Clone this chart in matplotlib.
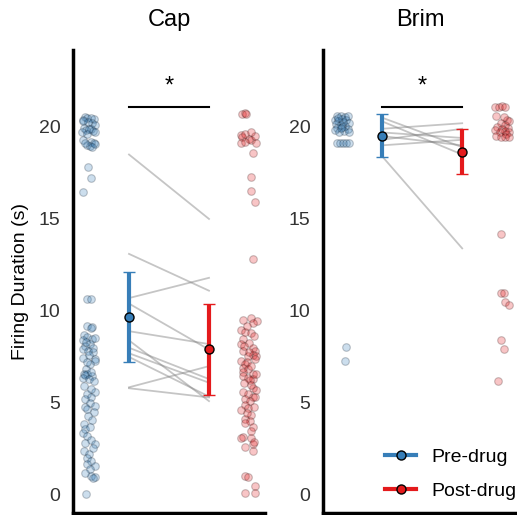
import numpy as np
import matplotlib
matplotlib.use("Agg")
import matplotlib.pyplot as plt
from matplotlib.lines import Line2D

plt.rcParams['font.family'] = ['Liberation Sans', 'DejaVu Sans']

BLUE = '#377eb8'
RED = '#e41a1c'

# ---- Cap: individual trials (value, jitter) ----
cap_pre = [20.55, 20.5, 20.45, 20.4, 20.5, 20.3, 20.2, 20.25, 20.1, 19.95, 19.9, 19.85, 19.8,
           19.75, 19.7, 19.9, 19.6, 19.3, 19.2, 19.1, 19.0, 18.95, 19.15, 19.05, 18.9,
           17.8, 17.25, 16.45, 10.65, 10.65,
           9.2, 9.15, 9.05, 8.7, 8.6, 8.45, 8.4, 8.2, 8.1, 8.0, 7.95, 7.8, 7.75,
           7.45, 7.4, 7.3, 7.1, 6.85, 6.6, 6.55, 6.5, 6.45, 6.35, 6.3,
           5.9, 5.6, 5.5, 5.35, 5.2, 5.0, 4.85, 4.8, 4.5, 4.3,
           3.85, 3.6, 3.35, 3.2, 3.0, 2.85, 2.75, 2.4, 2.2, 2.0, 1.85, 1.7, 1.55, 1.4,
           1.05, 0.95, 0.9, 0.05,
           8.55, 8.3, 7.6, 7.2, 6.7, 6.2, 5.75, 4.65, 4.1, 3.7, 2.55, 1.2]
cap_pre_jit = [-0.05, -0.03, 0.06, -0.07, 0.02, -0.08, 0.04, -0.01, 0.07, -0.06, 0.03, -0.04, 0.05,
               -0.09, 0.08, 0.0, -0.02, -0.07, 0.03, 0.06, -0.03, 0.01, -0.05, 0.07, 0.04,
               -0.01, 0.02, -0.07, -0.03, 0.02,
               -0.02, 0.04, 0.02, -0.06, -0.02, 0.04, -0.08, 0.01, -0.05, 0.05, -0.08, -0.01, 0.05,
               -0.07, 0.07, 0.08, 0.01, -0.04, -0.06, -0.02, -0.05, 0.04, -0.07, 0.0,
               -0.06, 0.08, -0.03, 0.03, -0.05, 0.01, 0.08, -0.05, 0.06, -0.01,
               -0.06, -0.05, -0.08, -0.03, 0.03, -0.05, 0.07, -0.06, 0.0, -0.03, 0.03, -0.02, 0.07, 0.01,
               0.03, 0.07, 0.05, -0.04,
               0.07, -0.04, 0.0, -0.03, 0.02, 0.06, 0.02, -0.03, 0.04, 0.01, 0.05, -0.05]

cap_post = [20.7, 20.75, 20.7,
            19.55, 19.45, 19.6, 19.35, 19.3, 19.5, 19.1, 19.15, 19.2, 19.75,
            18.6, 17.3, 16.5, 15.9, 12.8,
            9.5, 9.6, 9.45, 9.35, 8.95, 8.85, 8.8, 8.5, 8.25, 8.2,
            8.0, 7.85, 7.85, 7.6, 7.55, 7.55, 7.3, 7.25, 7.1, 6.9, 6.85, 6.7, 6.6,
            6.45, 6.35, 6.3, 6.25, 6.6,
            5.8, 5.7, 5.5, 5.35, 5.2, 5.1, 4.9, 4.7, 4.6,
            4.35, 4.15, 4.0, 3.9, 3.7, 3.15, 3.1, 3.1, 2.6, 2.75, 2.4,
            1.05, 1.0, 0.5, 0.1, 0.1,
            9.2, 8.65, 8.1, 7.75, 7.4, 7.0, 6.1, 5.95, 5.6, 5.3, 4.8, 4.45, 3.5, 2.9]
cap_post_jit = [-0.09, -0.05, -0.04,
                -0.1, -0.09, -0.05, 0.0, 0.03, 0.07, 0.09, -0.1, -0.05, 0.03,
                0.05, 0.03, 0.03, 0.07, 0.05,
                -0.08, 0.03, 0.1, 0.05, -0.1, -0.05, 0.03, -0.08, 0.0, -0.1,
                0.05, 0.07, -0.08, 0.05, 0.09, -0.01, -0.1, -0.03, -0.05, -0.08, -0.01, -0.08, 0.05,
                -0.08, -0.01, 0.05, 0.01, 0.09,
                0.05, 0.09, -0.01, 0.05, -0.05, 0.01, -0.05, -0.01, -0.1,
                0.03, -0.05, 0.01, -0.05, 0.05, -0.08, -0.1, 0.03, -0.05, 0.05, 0.05,
                -0.05, -0.01, 0.07, -0.05, 0.07,
                -0.03, 0.06, -0.06, 0.0, 0.08, 0.03, -0.06, 0.02, -0.08, 0.08, 0.06, -0.03, 0.02, 0.06]

# paired cell means
cap_pair_pre = [18.5, 13.1, 10.7, 10.4, 8.9, 8.4, 8.0, 7.7, 7.5, 5.85, 5.8]
cap_pair_post = [15.0, 11.1, 11.8, 7.9, 8.2, 5.1, 6.3, 6.1, 5.35, 7.0, 5.3]

# ---- Brim ----
brim_pre = [20.6, 20.6, 20.55, 20.6, 20.4, 20.45, 20.35, 20.3, 20.2, 20.15, 20.1, 20.05, 20.0,
            19.95, 19.9, 19.85, 19.8, 19.75, 19.7, 20.25, 19.95, 20.5,
            19.15, 19.15, 19.1, 19.15, 19.1, 8.05, 7.3]
brim_pre_jit = [-0.07, -0.02, 0.03, 0.07, -0.09, 0.0, 0.05, -0.05, 0.08, -0.08, -0.02, 0.04, 0.0,
                -0.06, 0.07, -0.09, 0.02, -0.04, 0.08, 0.01, -0.01, -0.05,
                -0.07, -0.03, 0.01, 0.05, 0.08, 0.05, 0.04]

brim_post = [21.1, 21.1, 21.15, 21.1,
             20.6, 20.4, 20.3, 20.2, 20.1, 20.0, 19.95, 19.9, 19.85, 19.8, 19.75, 19.7, 19.6,
             19.5, 19.45, 19.45, 19.45, 20.55,
             14.17, 10.96, 10.96, 10.5, 10.3, 8.44, 7.95, 6.21]
brim_post_jit = [-0.09, -0.04, 0.0, 0.04,
                 -0.08, 0.06, 0.09, -0.02, 0.03, -0.06, 0.07, 0.0, -0.09, 0.04, 0.09, -0.03, 0.05,
                 -0.08, -0.02, 0.03, 0.08, 0.02,
                 -0.02, -0.01, 0.02, 0.04, 0.08, -0.02, 0.02, -0.05]

brim_pair_pre = [20.5, 20.3, 19.9, 19.7, 19.5, 19.3, 19.0, 18.4]
brim_pair_post = [18.9, 18.5, 20.2, 19.4, 19.0, 19.9, 19.3, 13.4]

# group mean and 95% CI
cap_mean = [9.69, 7.93]
cap_lo = [7.25, 5.43]
cap_hi = [12.14, 10.38]
brim_mean = [19.53, 18.66]
brim_lo = [18.39, 17.45]
brim_hi = [20.7, 19.87]

panels = [
    ("Cap", cap_pre, cap_pre_jit, cap_post, cap_post_jit, cap_pair_pre, cap_pair_post,
     cap_mean, cap_lo, cap_hi, (0.3, 2.7)),
    ("Brim", brim_pre, brim_pre_jit, brim_post, brim_post_jit, brim_pair_pre, brim_pair_post,
     brim_mean, brim_lo, brim_hi, (0.26, 2.685)),
]

fig = plt.figure(figsize=(5.17, 5.15), dpi=100)
ax_rects = [[73 / 517, 2 / 515, 192 / 517, 463 / 515],
            [323 / 517, 2 / 515, 194 / 517, 463 / 515]]

for rect, (name, pre, pre_j, post, post_j, ppre, ppost, mean, lo, hi, xl) in zip(ax_rects, panels):
    ax = fig.add_axes(rect)
    ax.scatter(0.5 + np.array(pre_j), pre, s=30, facecolor=BLUE, edgecolor='#0a1a2a',
               linewidth=0.8, alpha=0.25, zorder=2)
    ax.scatter(2.5 + np.array(post_j), post, s=30, facecolor=RED, edgecolor='#2a0a0a',
               linewidth=0.8, alpha=0.25, zorder=2)
    for a, b in zip(ppre, ppost):
        ax.plot([1, 2], [a, b], color='gray', alpha=0.45, lw=1.3, zorder=1)
    for i, c in enumerate([BLUE, RED]):
        ax.errorbar(i + 1, mean[i], yerr=[[mean[i] - lo[i]], [hi[i] - mean[i]]], fmt='o',
                    color=c, ecolor=c, elinewidth=3, capsize=4.5, capthick=3,
                    markersize=6.5, markeredgecolor='black', markeredgewidth=1, zorder=3)
    ax.plot([1, 2], [21.1, 21.1], color='black', lw=1.5)
    ax.text(1.5, 21.6, '*', ha='center', va='bottom', fontsize=17)
    ax.set_xlim(*xl)
    ax.set_ylim(-0.98, 24.18)
    ax.set_xticks([])
    ax.set_yticks([0, 5, 10, 15, 20])
    ax.tick_params(axis='y', length=0, pad=9, labelsize=14, labelcolor='#333333')
    for s in ['top', 'right']:
        ax.spines[s].set_visible(False)
    for s in ['left', 'bottom']:
        ax.spines[s].set_linewidth(2.5)
        ax.spines[s].set_color('black')
    ax.set_title(name, fontsize=17, pad=17)
    if name == "Cap":
        ax.set_ylabel('Firing Duration (s)', fontsize=14, labelpad=7)
    else:
        handles = [Line2D([], [], color=BLUE, lw=3, marker='o', markersize=6.5,
                          markeredgecolor='black', markerfacecolor=BLUE),
                   Line2D([], [], color=RED, lw=3, marker='o', markersize=6.5,
                          markeredgecolor='black', markerfacecolor=RED)]
        ax.legend(handles, ['Pre-drug', 'Post-drug'], loc='lower right', frameon=False,
                  fontsize=14, handlelength=1.6, labelspacing=0.85, handletextpad=0.8,
                  bbox_to_anchor=(1.09, -0.01))

fig.savefig('out.png', dpi=100)
